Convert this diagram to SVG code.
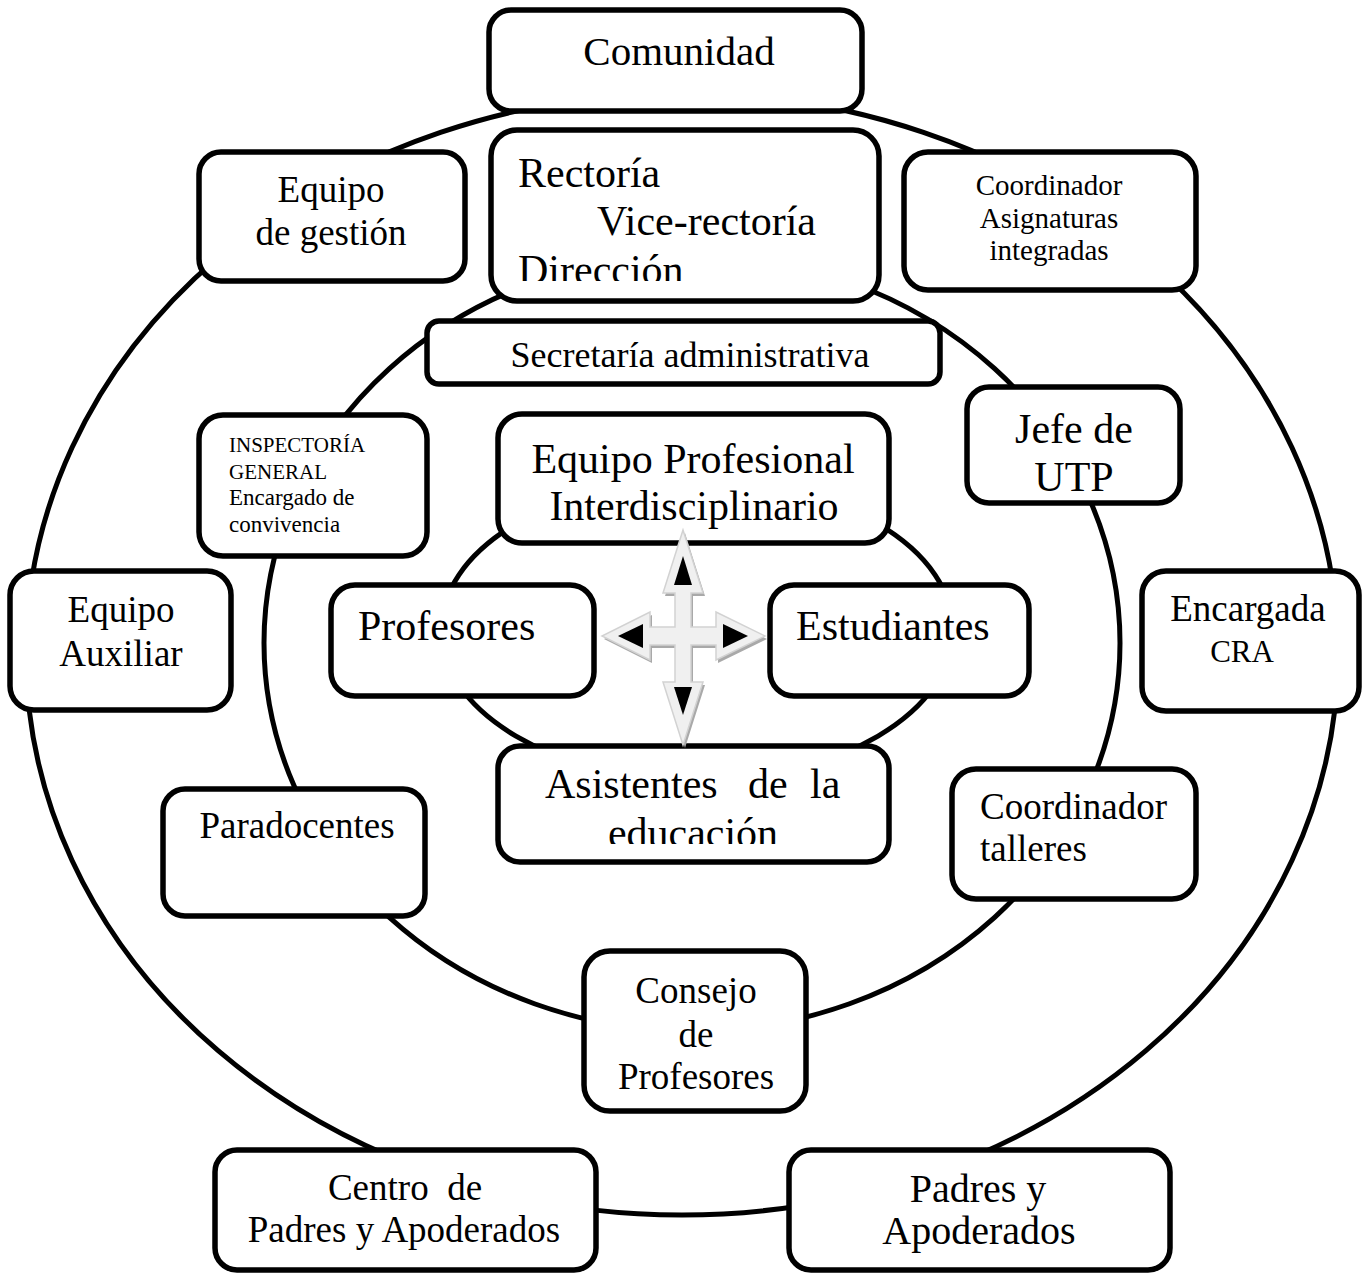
<svg xmlns="http://www.w3.org/2000/svg" width="1368" height="1274" viewBox="0 0 1368 1274">
<style>
.box{fill:#fff;stroke:#000;stroke-width:5.5}
.ring{fill:none;stroke:#000;stroke-width:5}
text{font-family:"Liberation Serif","Times New Roman",serif;fill:#000}
.c{text-anchor:middle}
</style>
<defs>
<clipPath id="clipRect"><rect x="495" y="135" width="380" height="146"/></clipPath>
<clipPath id="clipAsis"><rect x="503" y="750" width="380" height="94"/></clipPath>
</defs>
<g id="connectors">
<ellipse class="ring" cx="682" cy="654" rx="656" ry="561"/>
<ellipse class="ring" cx="692" cy="643" rx="428" ry="388"/>
<ellipse class="ring" cx="697" cy="630" rx="256" ry="150"/>
</g>
<g id="comunidad"><rect class="box" x="489" y="10" width="373" height="101" rx="22"/><text class="c" x="679" y="65" font-size="41">Comunidad</text></g>
<g id="equipo-gestion"><rect class="box" x="199" y="152" width="266" height="129" rx="22"/><text class="c" x="331" y="202" font-size="37">Equipo</text><text class="c" x="331" y="245" font-size="37">de gestión</text></g>
<g id="rectoria"><rect class="box" x="491" y="130" width="388" height="171" rx="26"/><g clip-path="url(#clipRect)"><text x="518" y="187" font-size="42">Rectoría</text><text x="597" y="235" font-size="42">Vice-rectoría</text><text x="518" y="284" font-size="42">Dirección</text></g></g>
<g id="coord-asignaturas"><rect class="box" x="904" y="152" width="292" height="138" rx="24"/><text class="c" x="1049" y="195" font-size="29">Coordinador</text><text class="c" x="1049" y="228" font-size="29">Asignaturas</text><text class="c" x="1049" y="260" font-size="29">integradas</text></g>
<g id="secretaria"><rect class="box" x="427" y="321" width="513" height="63" rx="12"/><text class="c" x="690" y="367" font-size="36">Secretaría administrativa</text></g>
<g id="jefe-utp"><rect class="box" x="967" y="387" width="213" height="116" rx="22"/><text class="c" x="1074" y="443" font-size="42">Jefe de</text><text class="c" x="1074" y="491" font-size="42">UTP</text></g>
<g id="inspectoria"><rect class="box" x="199" y="415" width="228" height="141" rx="24"/><text x="229" y="452" font-size="21">INSPECTORÍA</text><text x="229" y="479" font-size="21">GENERAL</text><text x="229" y="505" font-size="23">Encargado de</text><text x="229" y="532" font-size="23">convivencia</text></g>
<g id="equipo-profesional"><rect class="box" x="498" y="414" width="391" height="129" rx="24"/><text class="c" x="693" y="473" font-size="42">Equipo Profesional</text><text class="c" x="694" y="520" font-size="42">Interdisciplinario</text></g>
<g id="equipo-auxiliar"><rect class="box" x="10" y="571" width="221" height="139" rx="24"/><text class="c" x="121" y="622" font-size="37">Equipo</text><text class="c" x="121" y="666" font-size="37">Auxiliar</text></g>
<g id="encargada-cra"><rect class="box" x="1142" y="571" width="217" height="140" rx="24"/><text class="c" x="1248" y="621" font-size="37">Encargada</text><text class="c" x="1242" y="662" font-size="31">CRA</text></g>
<g id="profesores"><rect class="box" x="331" y="585" width="263" height="111" rx="24"/><text x="358" y="640" font-size="42">Profesores</text></g>
<g id="estudiantes"><rect class="box" x="770" y="585" width="259" height="111" rx="24"/><text x="796" y="640" font-size="42">Estudiantes</text></g>
<g id="asistentes"><rect class="box" x="498" y="746" width="391" height="116" rx="22"/><g clip-path="url(#clipAsis)"><text x="545" y="798" font-size="42">Asistentes</text><text x="748" y="798" font-size="42">de</text><text x="810" y="798" font-size="42">la</text><text class="c" x="693" y="847" font-size="42">educación</text></g></g>
<g id="paradocentes"><rect class="box" x="163" y="789" width="262" height="127" rx="22"/><text class="c" x="297" y="838" font-size="37">Paradocentes</text></g>
<g id="coord-talleres"><rect class="box" x="952" y="769" width="244" height="130" rx="24"/><text x="980" y="819" font-size="37">Coordinador</text><text x="980" y="861" font-size="37">talleres</text></g>
<g id="consejo"><rect class="box" x="584" y="951" width="222" height="160" rx="26"/><text class="c" x="696" y="1003" font-size="37">Consejo</text><text class="c" x="696" y="1047" font-size="37">de</text><text class="c" x="696" y="1089" font-size="37">Profesores</text></g>
<g id="centro-padres"><rect class="box" x="215" y="1150" width="381" height="120" rx="22"/><text class="c" x="405" y="1200" font-size="37" xml:space="preserve">Centro  de</text><text class="c" x="404" y="1242" font-size="37">Padres y Apoderados</text></g>
<g id="padres-apoderados"><rect class="box" x="789" y="1150" width="381" height="120" rx="22"/><text class="c" x="978" y="1202" font-size="40">Padres y</text><text class="c" x="979" y="1244" font-size="40">Apoderados</text></g>
<g id="center-arrow">
<polygon transform="translate(2,3)" fill="#a9a9a9" points="683,530 703,593 691,593 691,627 716,627 716,612 765,636 716,660 716,645 691,645 691,682 703,682 683,745 663,682 675,682 675,645 650,645 650,660 602,636 650,612 650,627 675,627 675,593 663,593"/>
<polygon fill="#f0f0f0" stroke="#d2d2d2" stroke-width="1.5" points="683,530 703,593 691,593 691,627 716,627 716,612 765,636 716,660 716,645 691,645 691,682 703,682 683,745 663,682 675,682 675,645 650,645 650,660 602,636 650,612 650,627 675,627 675,593 663,593"/>
<polygon fill="#000" points="683,556 692,585 674,585"/>
<polygon fill="#000" points="618,636 643,624 643,648"/>
<polygon fill="#000" points="748,636 723,624 723,648"/>
<polygon fill="#000" points="683,715 674,687 692,687"/>
</g>
</svg>
